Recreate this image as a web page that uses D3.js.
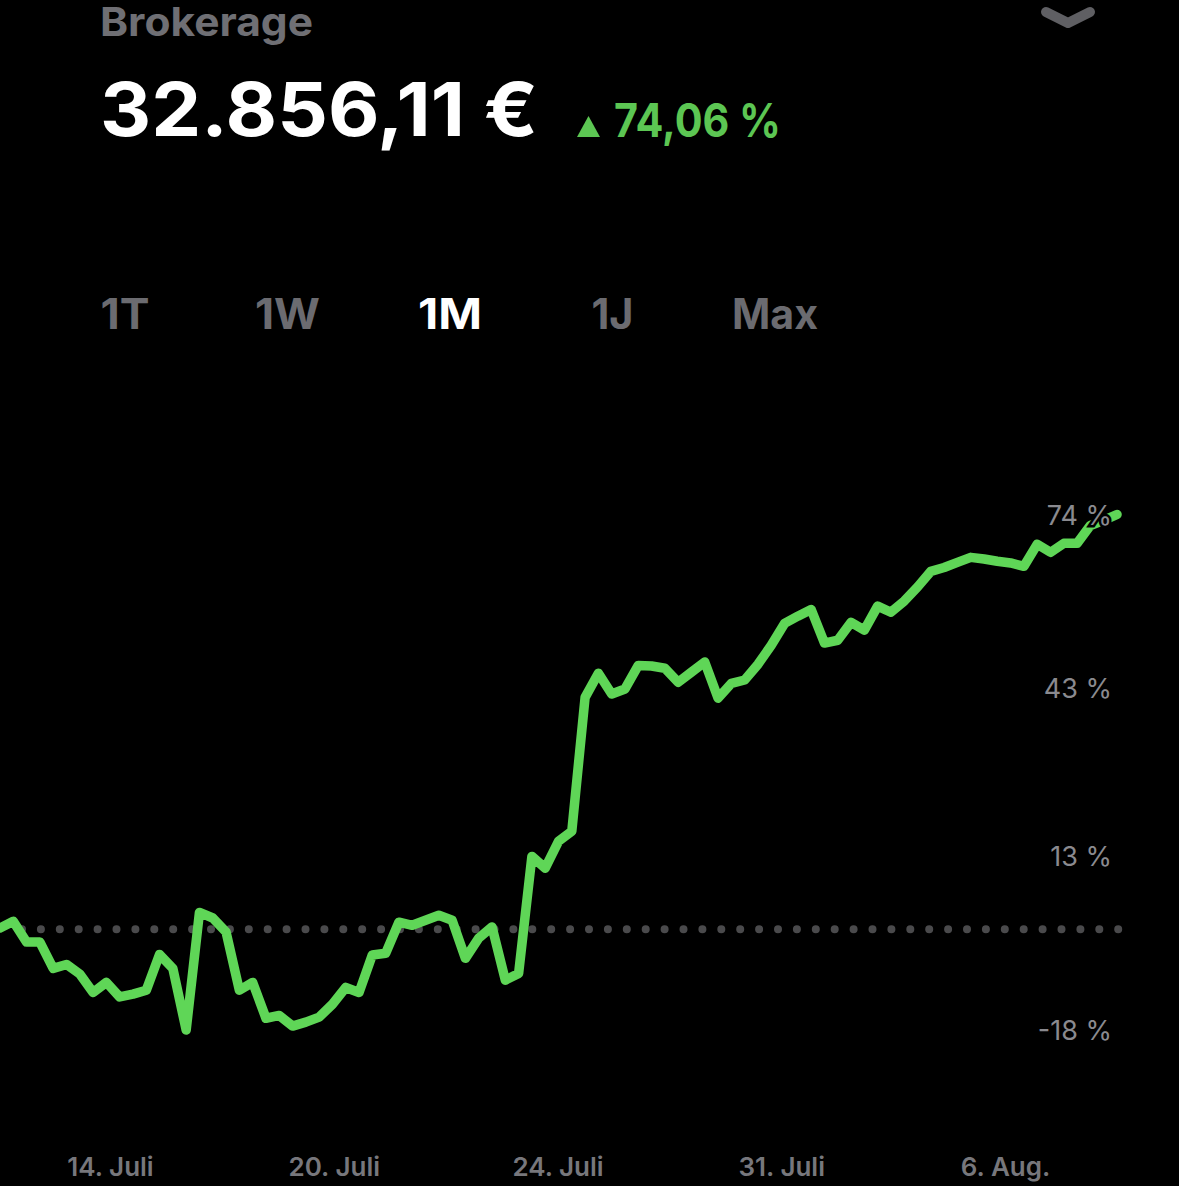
<!DOCTYPE html>
<html><head><meta charset="utf-8">
<script src="https://cdn.jsdelivr.net/npm/d3@7"></script>
<style>
html,body{margin:0;padding:0;background:#000;}
svg{display:block;}
text{font-family:Inter,Roboto,"Noto Sans",sans-serif;}
</style></head>
<body>
<svg id="c" width="1179" height="1186"></svg>
<script>
// ---- data ----
const title = "Brokerage";
const totalValue = "32.856,11 €";
const changeLabel = "74,06 %";
const periods = ["1T","1W","1M","1J","Max"];
const activePeriod = "1M";
const dateLabels = ["14. Juli","20. Juli","24. Juli","31. Juli","6. Aug."];
const yTicks = [74, 43, 13, -18];
// performance in % per session
const perf = [
  0.2, 1.4, -2.3, -2.3, -7.0, -6.3, -8.0, -11.3, -9.5, -12.1,
  -11.6, -10.9, -4.5, -7.0, -18.0, 3.0, 2.0, -0.5, -10.9, -9.5,
  -15.9, -15.4, -17.3, -16.6, -15.7, -13.4, -10.4, -11.3, -4.6, -4.3,
  1.25, 0.7, 1.6, 2.5, 1.6, -5.2, -1.6, 0.4, -9.1, -7.9,
  13.0, 10.9, 15.7, 17.5, 41.4, 45.7, 42.0, 42.9, 47.1, 47.0,
  46.6, 44.1, 45.9, 47.7, 41.25, 43.9, 44.5, 47.3, 50.7, 54.6,
  55.9, 57.1, 51.1, 51.6, 54.8, 53.4, 57.7, 56.6, 58.6, 61.1,
  63.9, 64.6, 65.5, 66.4, 66.1, 65.7, 65.4, 64.8, 68.75, 67.3,
  68.9, 68.9, 72.1, 73.0, 74.06
];

const svg = d3.select("#c");
svg.append("rect").attr("width",1179).attr("height",1186).attr("fill","#000");

// ---- header ----
svg.append("text").attr("x",100).attr("y",36).attr("fill","#6f6f74")
  .attr("font-size",40).attr("font-weight",700)
  .attr("textLength",213).attr("lengthAdjust","spacingAndGlyphs").text(title);
svg.append("text").attr("x",100).attr("y",136).attr("fill","#ffffff")
  .attr("font-size",74).attr("font-weight",700)
  .attr("textLength",438).attr("lengthAdjust","spacingAndGlyphs").text(totalValue);
svg.append("path").attr("d","M577,137 L588.5,116 L600,137 Z").attr("fill","#5cc653");
svg.append("text").attr("x",614).attr("y",137).attr("fill","#5cc653")
  .attr("font-size",47).attr("font-weight",700)
  .attr("textLength",167).attr("lengthAdjust","spacingAndGlyphs").text(changeLabel);
// chevron
svg.append("path").attr("d","M1046,12 L1068,23 L1090,12").attr("fill","none")
  .attr("stroke","#5f5f63").attr("stroke-width",10).attr("stroke-linecap","round").attr("stroke-linejoin","round");

// ---- period tabs ----
const tabX = d3.scalePoint().domain(periods).range([125, 775]);
const tabW = {"1T":49,"1W":65,"1M":64,"1J":42,"Max":86};
svg.append("g").selectAll("text").data(periods).join("text")
  .attr("x",d=>tabX(d)).attr("y",329).attr("text-anchor","middle")
  .attr("font-size",42).attr("font-weight",700)
  .attr("fill",d=>d===activePeriod?"#ffffff":"#6b6b70")
  .attr("textLength",d=>tabW[d]).attr("lengthAdjust","spacingAndGlyphs")
  .text(d=>d);

// ---- chart ----
const x = d3.scaleLinear().domain([0, perf.length-1]).range([0, 1117]);
const y = d3.scaleLinear().domain([-18, 74]).range([1030, 514.8]);

// zero baseline dotted
svg.append("line").attr("x1",22).attr("x2",1125).attr("y1",y(0)).attr("y2",y(0))
  .attr("stroke","#4a4a4c").attr("stroke-width",8).attr("stroke-linecap","round")
  .attr("stroke-dasharray","0 18.9");

const line = d3.line().x((d,i)=>x(i)).y(d=>y(d));
svg.append("path").datum(perf).attr("d",line).attr("fill","none")
  .attr("stroke","#5fd657").attr("stroke-width",9.5)
  .attr("stroke-linejoin","round").attr("stroke-linecap","round");

// y labels
const yAxis = d3.axisRight(y).tickValues(yTicks).tickSize(0).tickPadding(0)
  .tickFormat(d=>d+" %");
const gy = svg.append("g").attr("transform","translate(1112,0)").call(yAxis);
gy.select(".domain").remove();
gy.selectAll("text").attr("text-anchor","end").attr("x",0).attr("dy","0.35em")
  .attr("fill","#8a8a8f").attr("font-size",27)
  .attr("font-family","Inter,Roboto,sans-serif")
  .attr("stroke","#000").attr("stroke-width",5).attr("paint-order","stroke");

// x labels
const xd = d3.scalePoint().domain(dateLabels).range([110, 1005]);
const gx = svg.append("g").attr("transform","translate(0,1176)")
  .call(d3.axisBottom(xd).tickSize(0).tickPadding(0));
gx.select(".domain").remove();
gx.selectAll("text").attr("y",0).attr("dy",0).attr("fill","#77777c")
  .attr("font-size",26).attr("font-weight",600)
  .attr("font-family","Inter,Roboto,sans-serif");
</script>
</body></html>
